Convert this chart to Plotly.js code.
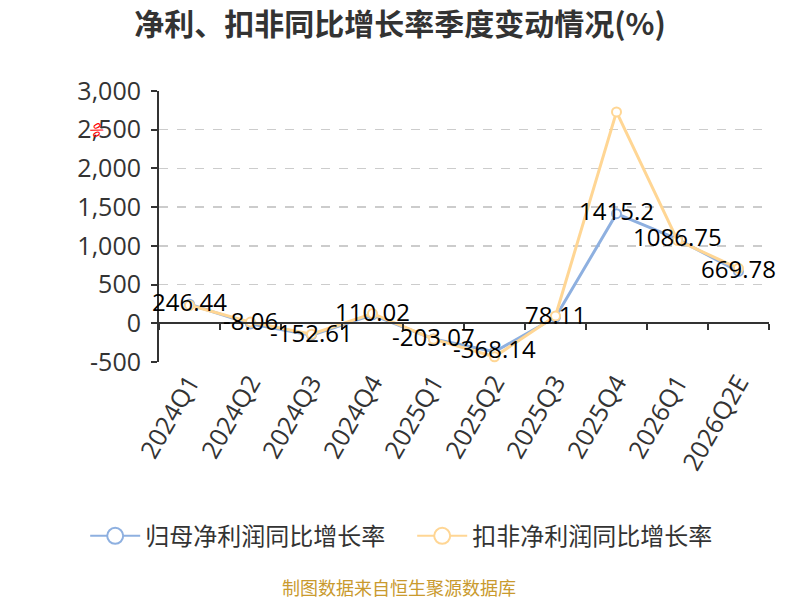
<!DOCTYPE html>
<html>
<head>
<meta charset="utf-8">
<script src="https://cdn.plot.ly/plotly-3.0.1.min.js"></script>
<style>
  html, body { margin: 0; padding: 0; background: #fff; }
  #chart { width: 800px; height: 600px; }
</style>
</head>
<body>
<div id="chart"></div>
<script>
// Quarter labels and the two growth-rate series (%)
const quarters   = ['2024Q1', '2024Q2', '2024Q3', '2024Q4', '2025Q1', '2025Q2', '2025Q3', '2025Q4', '2026Q1', '2026Q2E'];
const netGrowth  = [246.44, -8.06, -152.61, 110.02, -203.07, -368.14, 78.11, 1415.2, 1086.75, 669.78];
const deduGrowth = [232, 15, -140, 125, -205, -433, 95, 2730, 1070, 710];
const seriesNames = ['归母净利润同比增长率', '扣非净利润同比增长率'];
const yTicks     = [-500, 0, 500, 1000, 1500, 2000, 2500, 3000];
const yTickText  = ['-500', '0', '500', '1,000', '1,500', '2,000', '2,500', '3,000'];

const COLORS = {
  net:   '#8eb0e0',
  dedu:  '#ffd694',
  text:  '#333333',
  grid:  '#cccccc',
  source:'#c99a2e',
};
const FONT = 'Open Sans, "Noto Sans CJK SC", sans-serif';

function lineTrace(name, values, color) {
  return {
    x: quarters,
    y: values,
    type: 'scatter',
    mode: 'lines+markers',
    name: name,
    showlegend: false,
    line: { color: color, width: 3 },
    marker: { size: 9, color: '#ffffff', line: { color: color, width: 2 } },
    cliponaxis: false,
  };
}

// legend-only entries, so the legend symbol can be bigger than the plot markers
function legendTrace(name, color) {
  return {
    x: [null], y: [null],
    type: 'scatter', mode: 'lines+markers',
    name: name,
    line: { color: color, width: 2 },
    marker: { size: 20, color: '#ffffff', line: { color: color, width: 2 } },
    hoverinfo: 'skip',
  };
}

const traces = [
  lineTrace(seriesNames[0], netGrowth, COLORS.net),
  lineTrace(seriesNames[1], deduGrowth, COLORS.dedu),
  legendTrace(seriesNames[0], COLORS.net),
  legendTrace(seriesNames[1], COLORS.dedu),
  // carrier for the boundary ticks drawn on the zero line
  { x: quarters, y: netGrowth, xaxis: 'x2', yaxis: 'y', type: 'scatter', mode: 'none',
    showlegend: false, hoverinfo: 'skip' },
];

// value labels of the net-profit series
const labels = quarters.map((q, i) => ({
  x: q, y: netGrowth[i], xref: 'x', yref: 'y',
  text: String(netGrowth[i]), showarrow: false,
  yshift: 3,
  font: { family: FONT, size: 24, color: '#000000' },
}));

const layout = {
  width: 800, height: 600,
  paper_bgcolor: '#ffffff', plot_bgcolor: '#ffffff',
  font: { family: FONT, color: COLORS.text },
  margin: { l: 159, r: 31, t: 91, b: 238 },
  title: {
    text: '<b>净利、扣非同比增长率季度变动情况(%)</b>',
    font: { family: '"Noto Sans CJK SC", sans-serif', size: 30, color: COLORS.text },
    x: 0.5, xanchor: 'center', y: 0.96, yanchor: 'middle',
  },
  xaxis: {
    type: 'category',
    range: [-0.5, 9.5],
    showline: false, showgrid: false, zeroline: false,
    ticks: '',
    tickangle: -60,
    tickfont: { family: FONT, size: 25, color: COLORS.text },
  },
  xaxis2: {
    type: 'category',
    overlaying: 'x', anchor: 'free',
    position: 500 / 3500,
    range: [-0.5, 9.5],
    showline: true, linecolor: COLORS.text, linewidth: 2,
    showgrid: false, zeroline: false,
    ticks: 'outside', tickson: 'boundaries', ticklen: 6, tickwidth: 2, tickcolor: COLORS.text,
    showticklabels: false,
  },
  yaxis: {
    range: [-500, 3000],
    tickvals: yTicks, ticktext: yTickText,
    showline: true, linecolor: COLORS.text, linewidth: 2,
    ticks: 'outside', ticklen: 6, tickwidth: 2, tickcolor: COLORS.text,
    ticklabelstandoff: 5,
    showgrid: true, gridcolor: COLORS.grid, griddash: 'dash', gridwidth: 1.5,
    zeroline: true, zerolinecolor: COLORS.text, zerolinewidth: 2,
    tickfont: { family: FONT, size: 25, color: COLORS.text },
  },
  legend: {
    orientation: 'h',
    x: -0.121, xanchor: 'left',
    y: -0.643, yanchor: 'middle',
    itemwidth: 50,
    entrywidth: 262,
    font: { family: '"Noto Sans CJK SC", sans-serif', size: 24, color: COLORS.text },
  },
  showlegend: true,
  annotations: [
    ...labels,
    {
      xref: 'paper', yref: 'paper', x: -0.102, y: 0.855,
      xanchor: 'center', yanchor: 'middle',
      text: '%', showarrow: false, textangle: 60,
      font: { family: FONT, size: 16, color: '#ff0000' },
    },
    {
      xref: 'paper', yref: 'paper', x: 0.393, y: -0.831,
      xanchor: 'center', yanchor: 'middle',
      text: '制图数据来自恒生聚源数据库', showarrow: false,
      font: { family: '"Noto Sans CJK SC", sans-serif', size: 18, color: COLORS.source },
    },
  ],
};

Plotly.newPlot('chart', traces, layout, { displayModeBar: false, staticPlot: true });
</script>
</body>
</html>
